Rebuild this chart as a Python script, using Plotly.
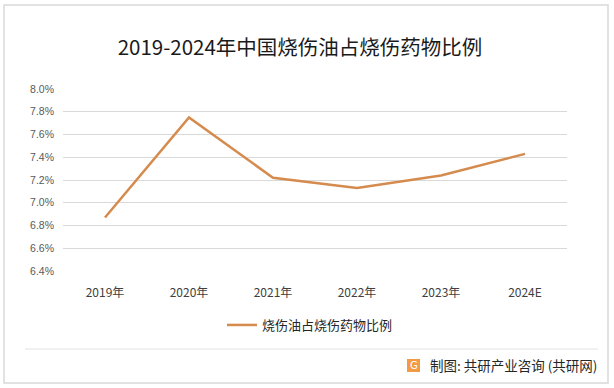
import plotly.graph_objects as go

categories = ["2019年", "2020年", "2021年", "2022年", "2023年", "2024E"]
values = [6.87, 7.75, 7.22, 7.13, 7.24, 7.43]
series_name = "烧伤油占烧伤药物比例"
title = "2019-2024年中国烧伤油占烧伤药物比例"
y_ticks = [6.4, 6.6, 6.8, 7.0, 7.2, 7.4, 7.6, 7.8, 8.0]
y_ticktext = [f"{v:.1f}%" for v in y_ticks]

W, H = 614, 388
L, R, T, B = 63, 567, 89, 271
CN = "Noto Sans CJK SC, sans-serif"

def px(x):
    return (x - L) / (R - L)

def py(y):
    return (B - y) / (B - T)

fig = go.Figure()
fig.add_trace(go.Scatter(
    x=categories, y=values, mode="lines", name=series_name,
    line=dict(color="#D58B4D", width=2.5),
))

shapes = [
    dict(type="rect", xref="paper", yref="paper", x0=px(4), x1=px(608), y0=py(383), y1=py(5),
         line=dict(color="#D9D9D9", width=1.5), fillcolor="rgba(0,0,0,0)", layer="below"),
    dict(type="line", xref="paper", yref="paper", x0=px(25), x1=px(598), y0=py(349), y1=py(349),
         line=dict(color="#E3E3E3", width=1)),
    dict(type="rect", xref="paper", yref="paper", x0=px(407), x1=px(420), y0=py(372), y1=py(359),
         line=dict(width=0), fillcolor="#F39A45"),
]

annotations = [
    dict(text="G", xref="paper", yref="paper", x=px(413.5), y=py(365.5), showarrow=False,
         font=dict(family="DejaVu Sans", size=10, color="white"), xanchor="center", yanchor="middle"),
    dict(text="制图: 共研产业咨询 (共研网)", xref="paper", yref="paper", x=px(428), y=py(365),
         showarrow=False, xanchor="left", yanchor="middle",
         font=dict(family=CN, size=13.5, color="#262626")),
]

fig.update_layout(
    width=W, height=H,
    margin=dict(l=L, r=W - R, t=T, b=H - B, pad=0),
    paper_bgcolor="white", plot_bgcolor="white",
    title=dict(text=title, x=300 / W, xref="container", xanchor="center", y=1 - 48 / H, yanchor="middle",
               font=dict(family=CN, size=20.5, color="#1a1a1a")),
    showlegend=True,
    legend=dict(orientation="h", x=px(222), y=py(325), xanchor="left", yanchor="middle",
                font=dict(family=CN, size=13, color="#262626"), bgcolor="rgba(0,0,0,0)",
                itemwidth=30),
    xaxis=dict(type="category", showgrid=False, showline=False, zeroline=False,
               ticks="", tickfont=dict(family=CN, size=12, color="#404040"),
               ticklabelstandoff=13, range=[-0.5, 5.5]),
    yaxis=dict(range=[6.4, 8.0], tickvals=y_ticks, ticktext=y_ticktext, showgrid=True,
               gridcolor="#D9D9D9", gridwidth=1, zeroline=False, showline=False, ticks="",
               tickfont=dict(family="Liberation Sans, sans-serif", size=10.5, color="#595959"),
               ticklabelstandoff=8),
    shapes=shapes, annotations=annotations,
)

fig.write_html("out.html")
